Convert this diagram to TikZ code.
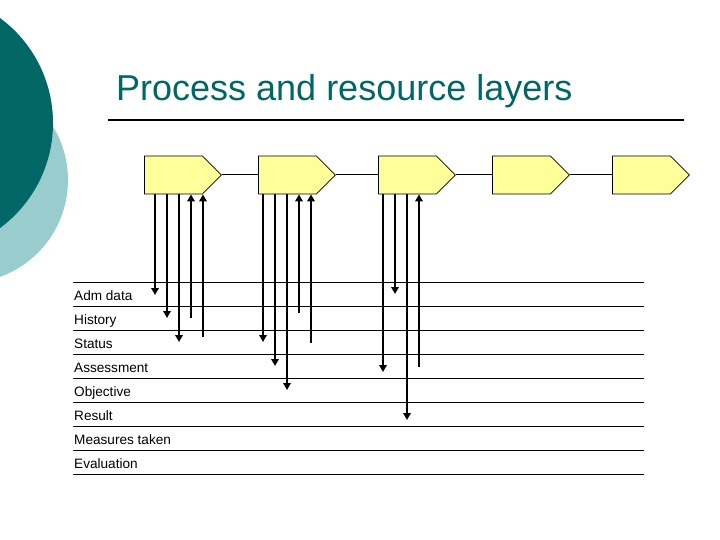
\documentclass[tikz,border=0pt]{standalone}
\usepackage{fontspec}
\setmainfont{Liberation Sans}
\usetikzlibrary{shapes.symbols,arrows.meta}
\definecolor{darkteal}{RGB}{0,102,102}
\definecolor{lightteal}{RGB}{153,204,204}
\definecolor{boxyellow}{RGB}{255,255,153}
\tikzset{
  stepbox/.style={signal, signal to=east, signal pointer angle=90, draw=black, line width=0.8pt,
    fill=boxyellow, minimum width=77pt, minimum height=38pt, inner sep=0pt, anchor=west},
  link/.style={line width=1pt},
  dn/.style={line width=2.3pt, -{Triangle[length=7pt,width=7.5pt]}},
  up/.style={line width=2.3pt, {Triangle[length=7pt,width=7.5pt]}-},
  layerline/.style={line width=1pt},
  lbl/.style={anchor=base west, inner sep=0pt, font=\fontsize{13.6}{16}\selectfont}
}
\begin{document}
\begin{tikzpicture}[x=1pt,y=-1pt]
\useasboundingbox (0,0) rectangle (720,540);
% decorative circles
\fill[lightteal] (-35,180) circle[radius=103];
\fill[darkteal] (-77.5,123) circle[radius=130.5];
% title
\node[anchor=base west, inner sep=0pt, text=darkteal, font=\fontsize{36}{43}\selectfont] (title) at (116,101) {Process and resource layers};
\coordinate (r1) at (108,120);
\coordinate (r2) at (684,120);
\draw[line width=2pt] (r1) -- (r2);
% process steps
\node[stepbox] (b1) at (144,175) {};
\node[stepbox] (b2) at (258,175) {};
\node[stepbox] (b3) at (378,175) {};
\node[stepbox] (b4) at (492,175) {};
\node[stepbox] (b5) at (612,175) {};
\draw[link] (b1.east) -- (b2.west);
\draw[link] (b2.east) -- (b3.west);
\draw[link] (b3.east) -- (b4.west);
\draw[link] (b4.east) -- (b5.west);
% layers
\foreach \i/\y in {0/282,1/306,2/330,3/354,4/378,5/402,6/426,7/450,8/474}{
  \coordinate (ll\i) at (73,\y);
  \coordinate (lr\i) at (644,\y);
  \draw[layerline] (ll\i) -- (lr\i);
}
\node[lbl] (t1) at (74,300) {Adm data};
\node[lbl] (t2) at (74,324) {History};
\node[lbl] (t3) at (74,348) {Status};
\node[lbl] (t4) at (74,372) {Assessment};
\node[lbl] (t5) at (74,396) {Objective};
\node[lbl] (t6) at (74,420) {Result};
\node[lbl] (t7) at (74,444) {Measures taken};
\node[lbl] (t8) at (74,468) {Evaluation};
% arrow ends
\coordinate (a11) at (155,295);
\coordinate (a12) at (167,318);
\coordinate (a13) at (179,342);
\coordinate (a14) at (191,318);
\coordinate (a15) at (203,337);
\coordinate (a21) at (263,342);
\coordinate (a22) at (275,366);
\coordinate (a23) at (287,390);
\coordinate (a24) at (299,313);
\coordinate (a25) at (311,343);
\coordinate (a31) at (383,372);
\coordinate (a32) at (395,294);
\coordinate (a33) at (407,420);
\coordinate (a34) at (419,367);
\draw[dn] (b1.south -| a11) -- (a11);
\draw[dn] (b1.south -| a12) -- (a12);
\draw[dn] (b1.south -| a13) -- (a13);
\draw[up] (b1.south -| a14) -- (a14);
\draw[up] (b1.south -| a15) -- (a15);
\draw[dn] (b2.south -| a21) -- (a21);
\draw[dn] (b2.south -| a22) -- (a22);
\draw[dn] (b2.south -| a23) -- (a23);
\draw[up] (b2.south -| a24) -- (a24);
\draw[up] (b2.south -| a25) -- (a25);
\draw[dn] (b3.south -| a31) -- (a31);
\draw[dn] (b3.south -| a32) -- (a32);
\draw[dn] (b3.south -| a33) -- (a33);
\draw[up] (b3.south -| a34) -- (a34);
\end{tikzpicture}
\end{document}
